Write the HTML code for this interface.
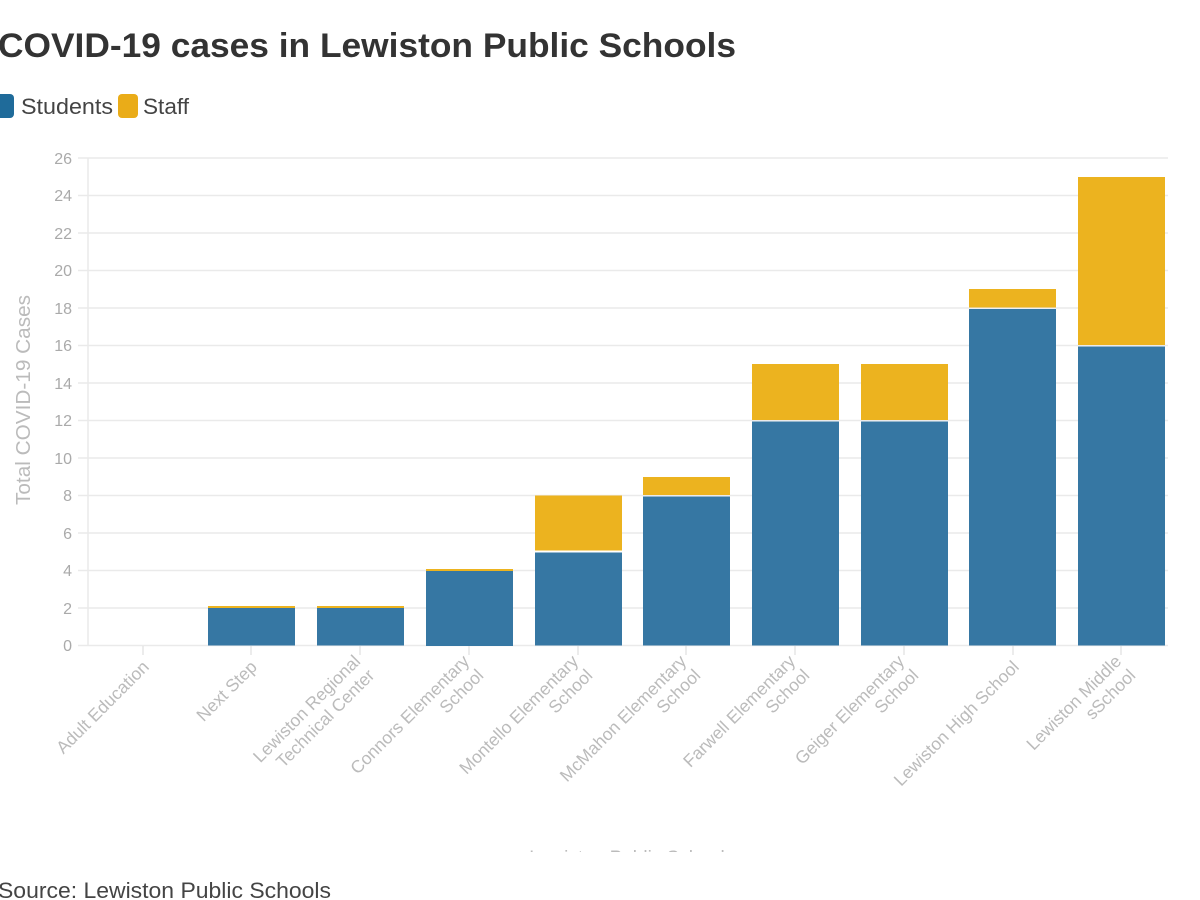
<!DOCTYPE html>
<html><head><meta charset="utf-8"><style>
html,body{margin:0;padding:0;background:#fff;width:1200px;height:900px;overflow:hidden}
body{font-family:"Liberation Sans",sans-serif}
</style></head><body>
<svg width="1200" height="900" xmlns="http://www.w3.org/2000/svg" font-family="Liberation Sans, sans-serif">
<text x="-2" y="57" font-size="34" font-weight="bold" fill="#333" textLength="738" lengthAdjust="spacingAndGlyphs">COVID-19 cases in Lewiston Public Schools</text>
<rect x="-6" y="94" width="20" height="24" rx="4" fill="#1f6b9a"/>
<text x="21" y="114" font-size="22" fill="#444" textLength="92" lengthAdjust="spacingAndGlyphs">Students</text>
<rect x="118" y="94" width="20" height="24" rx="4" fill="#eaac18"/>
<text x="143" y="114" font-size="22" fill="#444" textLength="46" lengthAdjust="spacingAndGlyphs">Staff</text>
<g stroke="#eaeaea" stroke-width="1.5">
<line x1="78" x2="1168" y1="158" y2="158"/><line x1="78" x2="1168" y1="195.5" y2="195.5"/>
<line x1="78" x2="1168" y1="233" y2="233"/><line x1="78" x2="1168" y1="270.5" y2="270.5"/>
<line x1="78" x2="1168" y1="308" y2="308"/><line x1="78" x2="1168" y1="345.5" y2="345.5"/>
<line x1="78" x2="1168" y1="383" y2="383"/><line x1="78" x2="1168" y1="420.5" y2="420.5"/>
<line x1="78" x2="1168" y1="458" y2="458"/><line x1="78" x2="1168" y1="495.5" y2="495.5"/>
<line x1="78" x2="1168" y1="533" y2="533"/><line x1="78" x2="1168" y1="570.5" y2="570.5"/>
<line x1="78" x2="1168" y1="608" y2="608"/><line x1="78" x2="1168" y1="645.5" y2="645.5"/>
<line x1="88" x2="88" y1="158" y2="646"/>
</g>
<g font-size="16" fill="#aaa" text-anchor="end">
<text x="72" y="164">26</text><text x="72" y="201">24</text><text x="72" y="239">22</text>
<text x="72" y="276">20</text><text x="72" y="314">18</text><text x="72" y="351">16</text>
<text x="72" y="389">14</text><text x="72" y="426">12</text><text x="72" y="464">10</text>
<text x="72" y="501">8</text><text x="72" y="539">6</text><text x="72" y="576">4</text>
<text x="72" y="614">2</text><text x="72" y="651">0</text>
</g>
<text transform="translate(30,400) rotate(-90)" font-size="20" fill="#bbb" text-anchor="middle" textLength="210" lengthAdjust="spacingAndGlyphs">Total COVID-19 Cases</text>
<g>
<rect x="208" y="608" width="87" height="37.5" fill="#3677a3"/><rect x="208" y="606" width="87" height="2" fill="#ecb31f"/>
<rect x="317" y="608" width="87" height="37.5" fill="#3677a3"/><rect x="317" y="606" width="87" height="2" fill="#ecb31f"/>
<rect x="426" y="571" width="87" height="75" fill="#3677a3"/><rect x="426" y="569" width="87" height="2" fill="#ecb31f"/>
<rect x="535" y="552.5" width="87" height="93" fill="#3677a3"/><rect x="535" y="495.5" width="87" height="55" fill="#ecb31f"/>
<rect x="643" y="496.5" width="87" height="149" fill="#3677a3"/><rect x="643" y="477" width="87" height="18" fill="#ecb31f"/>
<rect x="752" y="421.5" width="87" height="224" fill="#3677a3"/><rect x="752" y="364" width="87" height="56" fill="#ecb31f"/>
<rect x="861" y="421.5" width="87" height="224" fill="#3677a3"/><rect x="861" y="364" width="87" height="56" fill="#ecb31f"/>
<rect x="969" y="309" width="87" height="336.5" fill="#3677a3"/><rect x="969" y="289" width="87" height="18.5" fill="#ecb31f"/>
<rect x="1078" y="346.5" width="87" height="299" fill="#3677a3"/><rect x="1078" y="177" width="87" height="168" fill="#ecb31f"/>
</g>
<g stroke="#e5e5e5" stroke-width="1.5">
<line x1="143" x2="143" y1="646" y2="655"/><line x1="251" x2="251" y1="646" y2="655"/>
<line x1="360" x2="360" y1="646" y2="655"/><line x1="469" x2="469" y1="646" y2="655"/>
<line x1="578" x2="578" y1="646" y2="655"/><line x1="686" x2="686" y1="646" y2="655"/>
<line x1="795" x2="795" y1="646" y2="655"/><line x1="904" x2="904" y1="646" y2="655"/>
<line x1="1013" x2="1013" y1="646" y2="655"/><line x1="1121" x2="1121" y1="646" y2="655"/>
</g>
<g font-size="17.5" fill="#bbb" text-anchor="end">
<text transform="translate(150,668) rotate(-45)">Adult Education</text>
<text transform="translate(258,668) rotate(-45)">Next Step</text>
<text transform="translate(367,668) rotate(-45)"><tspan x="0" dy="-8">Lewiston Regional</tspan><tspan x="0" dy="20">Technical Center</tspan></text>
<text transform="translate(476,668) rotate(-45)"><tspan x="0" dy="-8">Connors Elementary</tspan><tspan x="0" dy="20">School</tspan></text>
<text transform="translate(585,668) rotate(-45)"><tspan x="0" dy="-8">Montello Elementary</tspan><tspan x="0" dy="20">School</tspan></text>
<text transform="translate(693,668) rotate(-45)"><tspan x="0" dy="-8">McMahon Elementary</tspan><tspan x="0" dy="20">School</tspan></text>
<text transform="translate(802,668) rotate(-45)"><tspan x="0" dy="-8">Farwell Elementary</tspan><tspan x="0" dy="20">School</tspan></text>
<text transform="translate(911,668) rotate(-45)"><tspan x="0" dy="-8">Geiger Elementary</tspan><tspan x="0" dy="20">School</tspan></text>
<text transform="translate(1020,668) rotate(-45)">Lewiston High School</text>
<text transform="translate(1128,668) rotate(-45)"><tspan x="0" dy="-8">Lewiston Middle</tspan><tspan x="0" dy="20">sSchool</tspan></text>
</g>
<defs><clipPath id="c"><rect x="0" y="840" width="1200" height="12"/></clipPath></defs>
<text x="627" y="864" font-size="19" fill="#bbb" text-anchor="middle" clip-path="url(#c)">Lewiston Public School</text>
<text x="-2" y="898" font-size="22" fill="#444" textLength="333" lengthAdjust="spacingAndGlyphs">Source: Lewiston Public Schools</text>
</svg>
</body></html>
